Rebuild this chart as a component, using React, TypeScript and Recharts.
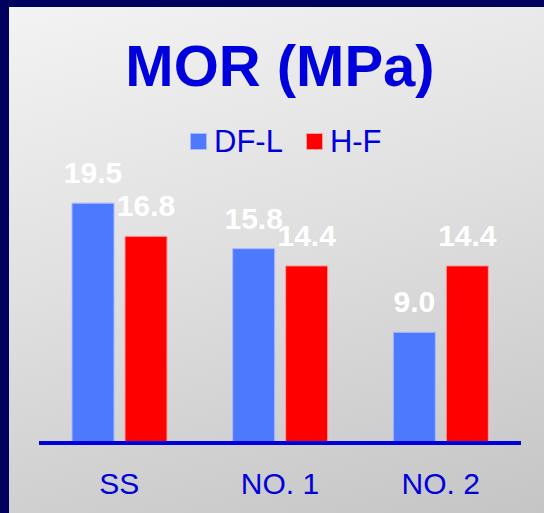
import { Bar, BarChart, LabelList, Legend, XAxis, YAxis } from "recharts";

const CATEGORIES = ["SS", "NO. 1", "NO. 2"];
const DFL_VALUES = [19.5, 15.8, 9.0];
const HF_VALUES = [16.8, 14.4, 14.4];
const SERIES = [
  { key: "dfl", name: "DF-L", color: "#4d79ff", stroke: "#a9bbff" },
  { key: "hf", name: "H-F", color: "#ff0000", stroke: "#ff9c9c" },
];

const data = CATEGORIES.map((name, i) => ({
  name,
  dfl: DFL_VALUES[i],
  hf: HF_VALUES[i],
}));

const FONT = "'Liberation Sans', Arial, sans-serif";
const BLUE = "#0000dd";

function LegendBox() {
  return (
    <div style={{ display: "flex", alignItems: "center", fontFamily: FONT }}>
      {SERIES.map((s, i) => (
        <div key={s.key} style={{ display: "flex", alignItems: "center", marginLeft: i ? 23 : 0 }}>
          <div style={{ width: 15, height: 15, background: s.color, border: `1px solid ${s.stroke}` }} />
          <span style={{ marginLeft: 7, fontSize: 31, lineHeight: "31px", color: BLUE }}>{s.name}</span>
        </div>
      ))}
    </div>
  );
}

export default function App() {
  return (
    <div style={{ position: "absolute", left: 0, top: 0, width: 544, height: 513, background: "#00005f", overflow: "hidden" }}>
      <div
        style={{
          position: "absolute",
          left: 9,
          top: 7,
          width: 535,
          height: 506,
          background: "linear-gradient(165deg, #f3f3f3 0%, #e0e0e0 45%, #c5c5c5 100%)",
        }}
      />
      <div
        style={{
          position: "absolute",
          left: 0,
          top: 36.5,
          width: 560,
          textAlign: "center",
          fontFamily: FONT,
          fontWeight: "bold",
          fontSize: 58,
          lineHeight: "58px",
          color: BLUE,
        }}
      >
        MOR (MPa)
      </div>
      <div style={{ position: "absolute", left: 0, top: 0 }}>
        <BarChart
          width={544}
          height={513}
          data={data}
          margin={{ top: 197, right: 23, bottom: 10, left: 39 }}
          barCategoryGap={33}
          barGap={11}
        >
          <XAxis
            dataKey="name"
            height={60}
            axisLine={{ stroke: BLUE, strokeWidth: 4 }}
            tickLine={false}
            tickSize={0}
            tickMargin={30}
            tick={{ fill: BLUE, fontSize: 30, fontFamily: FONT }}
          />
          <YAxis hide domain={[0, 20]} />
          <Legend
            verticalAlign="middle"
            layout="horizontal"
            content={() => <LegendBox />}
            wrapperStyle={{ top: 126, left: 190, width: "auto" }}
          />
          {SERIES.map((s) => (
            <Bar
              key={s.key}
              dataKey={s.key}
              name={s.name}
              fill={s.color}
              stroke={s.stroke}
              strokeWidth={1}
              isAnimationActive={false}
            >
              <LabelList
                dataKey={s.key}
                position="top"
                offset={20}
                fill="#ffffff"
                fontSize={30}
                fontWeight="bold"
                fontFamily={FONT}
                formatter={(v: number) => v.toFixed(1)}
              />
            </Bar>
          ))}
        </BarChart>
      </div>
    </div>
  );
}
